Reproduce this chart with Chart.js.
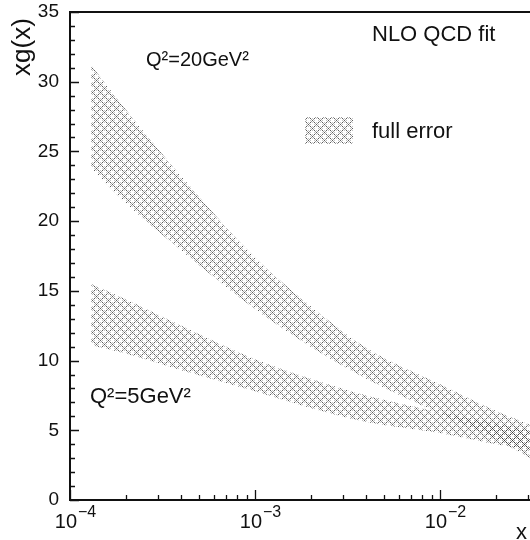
<!DOCTYPE html>
<html><head><meta charset="utf-8">
<script src="https://cdn.jsdelivr.net/npm/chart.js@4"></script>
<style>html,body{margin:0;padding:0;background:#fff;overflow:hidden}canvas{display:block}</style>
</head><body>
<canvas id="c" width="530" height="540"></canvas>
<script>
// ---- data ----
const xValues   = [1.3e-4, 2e-4, 4e-4, 1e-3, 2e-3, 4e-3, 1e-2, 2e-2, 3.06e-2];
const q20Upper  = [31.2, 28.0, 23.2, 17.4, 13.9, 10.9, 8.3, 6.4, 5.4];
const q20Lower  = [23.8, 21.3, 17.9, 13.7, 11.0, 8.7, 6.2, 4.4, 3.0];
const q5Upper   = [15.5, 14.4, 12.5, 10.1, 8.7, 7.5, 6.3, 5.5, 5.0];
const q5Lower   = [11.1, 10.5, 9.3, 7.8, 6.6, 5.6, 4.8, 4.0, 3.6];
const yTickValues = [0, 5, 10, 15, 20, 25, 30, 35];
const xDecades    = [1e-4, 1e-3, 1e-2];
const xDecadeExps = ['\u22124', '\u22123', '\u22122'];
const xMin = 1e-4, xMax = 3.065e-2, yMin = 0, yMax = 35;

const FONT = '"Liberation Sans", Arial, Helvetica, sans-serif';
const canvas = document.getElementById('c');
const ctx0 = canvas.getContext('2d');

function makeHatch(ctx){
  const c = document.createElement('canvas'); c.width = 8; c.height = 8;
  const g = c.getContext('2d');
  const img = g.createImageData(8, 8);
  for (let i = 0; i < 8; i++) for (let j = 0; j < 8; j++) {
    const k = (j * 8 + i) * 4;
    let a = 0, v = 0;
    if ((i + j) % 8 === 0 || (i - j + 8) % 8 === 0) { v = 50; a = (i % 2 === 0) ? 200 : 120; }
    else if ((i + j) % 4 === 2 && (i - j + 8) % 4 === 2) { v = 120; a = 110; }
    img.data[k] = v; img.data[k+1] = v; img.data[k+2] = v; img.data[k+3] = a;
  }
  g.putImageData(img, 0, 0);
  return ctx.createPattern(c, 'repeat');
}
const hatch = makeHatch(ctx0);

const pts = arr => arr.map((y, i) => ({x: xValues[i], y}));
const band = (data, fill) => ({
  data: pts(data), borderWidth: 0, pointRadius: 0,
  cubicInterpolationMode: 'monotone', backgroundColor: hatch, borderColor: 'rgba(0,0,0,0)', fill
});

const axesPlugin = {
  id: 'axesPlugin',
  afterDraw(chart){
    const ctx = chart.ctx, xs = chart.scales.x, ys = chart.scales.y;
    const L = chart.chartArea.left, R = chart.chartArea.right, T = chart.chartArea.top, B = chart.chartArea.bottom;
    ctx.save();
    ctx.strokeStyle = '#111'; ctx.lineWidth = 2;
    ctx.beginPath();
    ctx.moveTo(R + 2, T); ctx.lineTo(L, T); ctx.lineTo(L, B); ctx.lineTo(R + 2, B);
    ctx.stroke();
    ctx.lineWidth = 1.3;
    ctx.beginPath();
    for (let v = yMin; v <= yMax; v += 1) {
      const py = Math.round(ys.getPixelForValue(v)) + 0.5;
      const len = (v % 5 === 0) ? 9 : 5;
      ctx.moveTo(L, py); ctx.lineTo(L + len, py);
    }
    xDecades.forEach(d => {
      for (let k = 1; k <= 9; k++) {
        const v = d * k; if (v > xMax) break;
        const px = Math.round(xs.getPixelForValue(v)) + 0.5;
        const len = k === 1 ? 10 : 5;
        ctx.moveTo(px, B); ctx.lineTo(px, B - len);
      }
    });
    ctx.stroke();
    ctx.fillStyle = '#111';
    ctx.font = '19px ' + FONT; ctx.textAlign = 'right'; ctx.textBaseline = 'middle';
    yTickValues.forEach(v => ctx.fillText(String(v), 59, ys.getPixelForValue(v)));
    ctx.textBaseline = 'alphabetic';
    xDecades.forEach((d, i) => {
      const px = xs.getPixelForValue(d);
      ctx.font = '20px ' + FONT; ctx.textAlign = 'right';
      ctx.fillText('10', px + 7, 528);
      ctx.font = '16px ' + FONT; ctx.textAlign = 'left';
      ctx.fillText(xDecadeExps[i], px + 8, 517);
    });
    ctx.font = '22px ' + FONT; ctx.textAlign = 'left';
    ctx.fillText('x', 516, 539);
    ctx.save();
    ctx.translate(30, 47); ctx.rotate(-Math.PI / 2);
    ctx.font = '26px ' + FONT; ctx.textAlign = 'center';
    ctx.fillText('xg(x)', 0, 0);
    ctx.restore();
    ctx.font = '22px ' + FONT; ctx.textAlign = 'left';
    ctx.fillText('NLO QCD fit', 372, 41);
    ctx.fillText('full error', 372, 138);
    ctx.font = '20px ' + FONT;
    ctx.fillText('Q\u00b2=20GeV\u00b2', 146, 66);
    ctx.font = '22px ' + FONT;
    ctx.fillText('Q\u00b2=5GeV\u00b2', 90, 403);
    ctx.fillStyle = hatch;
    ctx.fillRect(305, 117, 48, 27);
    ctx.restore();
  }
};

new Chart(canvas, {
  type: 'line',
  data: { datasets: [
    band(q20Upper, '+1'), band(q20Lower, false),
    band(q5Upper, '+1'), band(q5Lower, false)
  ]},
  options: {
    responsive: false, animation: false, devicePixelRatio: 1,
    layout: { padding: { left: 70, top: 12, right: 0, bottom: 40 } },
    plugins: { legend: { display: false }, tooltip: { enabled: false } },
    scales: {
      x: { type: 'logarithmic', min: xMin, max: xMax, display: false },
      y: { type: 'linear', min: yMin, max: yMax, display: false }
    }
  },
  plugins: [axesPlugin]
});
</script>
</body></html>
